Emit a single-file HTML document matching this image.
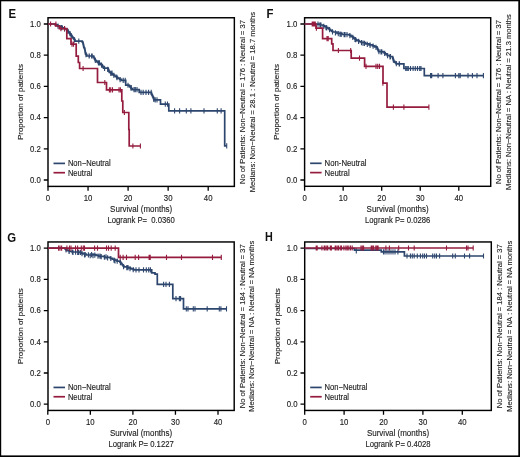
<!DOCTYPE html><html><head><meta charset="utf-8"><style>
html,body{margin:0;padding:0;background:#fff;}svg{display:block;will-change:transform;}
.t{font-family:'Liberation Sans',sans-serif;font-size:7.7px;fill:#1c1c1c;stroke:#1c1c1c;stroke-width:0.12px;}
.s{font-family:'Liberation Sans',sans-serif;font-size:7.6px;fill:#1c1c1c;stroke:#1c1c1c;stroke-width:0.12px;}
.L{font-family:'Liberation Sans',sans-serif;font-size:12px;font-weight:bold;fill:#111;}
</style></head><body>
<svg width="520" height="457" viewBox="0 0 520 457">
<rect x="0" y="0" width="520" height="457" fill="#fff"/>
<rect x="48" y="17.76" width="186.35" height="168.64" fill="none" stroke="#000" stroke-width="1.45"/>
<path d="M43.8,180H48M43.8,148.8H48M43.8,117.6H48M43.8,86.4H48M43.8,55.2H48M43.8,24H48M48,186.4V190.8M88.05,186.4V190.8M128.1,186.4V190.8M168.15,186.4V190.8M208.2,186.4V190.8" stroke="#000" stroke-width="1.3" fill="none"/>
<text transform="translate(40.8 182.7) scale(1 1.14)" text-anchor="end" class="t" style="font-size:7.8px">0.0</text>
<text transform="translate(40.8 151.5) scale(1 1.14)" text-anchor="end" class="t" style="font-size:7.8px">0.2</text>
<text transform="translate(40.8 120.3) scale(1 1.14)" text-anchor="end" class="t" style="font-size:7.8px">0.4</text>
<text transform="translate(40.8 89.1) scale(1 1.14)" text-anchor="end" class="t" style="font-size:7.8px">0.6</text>
<text transform="translate(40.8 57.9) scale(1 1.14)" text-anchor="end" class="t" style="font-size:7.8px">0.8</text>
<text transform="translate(40.8 26.7) scale(1 1.14)" text-anchor="end" class="t" style="font-size:7.8px">1.0</text>
<text transform="translate(48 200.7) scale(1 1.14)" text-anchor="middle" class="t" style="font-size:7.8px">0</text>
<text transform="translate(88.05 200.7) scale(1 1.14)" text-anchor="middle" class="t" style="font-size:7.8px">10</text>
<text transform="translate(128.1 200.7) scale(1 1.14)" text-anchor="middle" class="t" style="font-size:7.8px">20</text>
<text transform="translate(168.15 200.7) scale(1 1.14)" text-anchor="middle" class="t" style="font-size:7.8px">30</text>
<text transform="translate(208.2 200.7) scale(1 1.14)" text-anchor="middle" class="t" style="font-size:7.8px">40</text>
<text transform="translate(141.18 212.4) scale(1 1.14)" text-anchor="middle" class="t" style="font-size:8px">Survival (months)</text>
<text transform="translate(141.18 223.3) scale(1 1.14)" text-anchor="middle" class="t" style="font-size:7.7px">Logrank P=  0.0360</text>
<text x="22.9" y="102.08" text-anchor="middle" class="t" style="font-size:8px" transform="rotate(-90 22.9 102.08)">Proportion of patients</text>
<text x="245.05" y="102.08" text-anchor="middle" class="s" transform="rotate(-90 245.05 102.08)">No of Patients: Non−Neutral = 176 : Neutral = 37</text>
<text x="254.65" y="102.08" text-anchor="middle" class="s" transform="rotate(-90 254.65 102.08)">Medians: Non−Neutral = 28.1 : Neutral = 18.7 months</text>
<text transform="translate(8.5 17.6) scale(0.95 1)" class="L">E</text>
<path d="M53.5,163.4H65" stroke="#2d466e" stroke-width="1.7"/>
<path d="M53.5,172.7H65" stroke="#951c3e" stroke-width="1.7"/>
<text transform="translate(67.9 166.3) scale(1 1.14)" text-anchor="start" class="t" style="font-size:7.6px">Non−Neutral</text>
<text transform="translate(67.9 175.6) scale(1 1.14)" text-anchor="start" class="t" style="font-size:7.6px">Neutral</text>
<path d="M48,24H53H55.28 V24.97H57.57 V25.93H59.85 V26.9H62.13 V27.87H64.42 V28.83H66.7 V29.8H67.39 V30.7H68.08 V31.6H68.78 V32.5H69.47 V33.4H70.16 V34.3H70.85 V35.2H71.54 V36.1H72.23 V37H72.92 V37.9H73.62 V38.8H74.31 V39.7H75 V40.6V41.2H81.6H82.25 V42.05H82.9 V42.9H83.1 V43.82H83.3 V44.74H83.5 V45.66H83.7 V46.58H83.9 V47.5H84.35 V48.45H84.8 V49.4H84.94 V50.32H85.08 V51.24H85.22 V52.16H85.36 V53.08H85.5 V54H86.15 V54.7H86.8 V55.4V56H93.4H93.7 V57H94 V58H94.47 V58.87H94.93 V59.73H95.4 V60.6H96.37 V61.37H97.33 V62.13H98.3 V62.9H99.6 V63.77H100.9 V64.63H102.2 V65.5H102.63 V66.37H103.07 V67.23H103.5 V68.1H108.1 V69.4H108.53 V70.4H108.97 V71.4H109.4 V72.4H110.73 V73.3H112.05 V74.2H113.38 V75.1H114.7 V76H115.8 V76.77H116.9 V77.53H118 V78.3H119.65 V79.3H121.3 V80.3H125.7V85.1H128.7 V85.3H129.4 V86.18H130.1 V87.06H130.8 V87.94H131.5 V88.82H132.2 V89.7H139.2V92.3H151.2H151.37 V93.07H151.53 V93.83H151.7 V94.6H152.13 V95.47H152.57 V96.33H153 V97.2H153.33 V98.1H153.67 V99H154 V99.9H160.5V104.2H168.8V110.8H224.7V145.8H226.7" stroke="#2d466e" stroke-width="1.7" fill="none"/>
<path d="M78.8,38.6V43.8M89.3,53.4V58.6M91.6,53.4V58.6M125.2,77.7V82.9M131.3,84.9V90.1M135.3,87.1V92.3M141,89.7V94.9M143.2,89.7V94.9M155.2,97.3V102.5M157,97.3V102.5M165.3,101.6V106.8M167.5,101.6V106.8M174.6,108.2V113.4M179.6,108.2V113.4M186.3,108.2V113.4M190.9,108.2V113.4M204,108.2V113.4M217.3,108.2V113.4M221.1,108.2V113.4M226.7,143.2V148.4M62,25V30.2M70,31.1V36.3M99.5,60.3V65.5M112,70.5V75.7M116.7,74.4V79.6M58,23.52V28.72M61.3,24.91V30.11M64.6,26.31V31.51M67.9,28.76V33.96M71.2,33.06V38.26M74.5,37.35V42.55M86,51.94V57.14M89.1,53.4V58.6M92.2,53.4V58.6M95.3,57.81V63.01M98.4,60.37V65.57M101.5,62.43V67.63M104.6,65.81V71.01M107.7,66.69V71.89M110.8,70.75V75.95M113.9,72.86V78.06M117,75V80.2M120.1,76.97V82.17M123.2,77.7V82.9M128,82.65V87.85M131,85.59V90.79M134,87.1V92.3M137,87.1V92.3M146,89.7V94.9M148.6,89.7V94.9M151.2,89.7V94.9M153.8,96.76V101.96" stroke="#2d466e" stroke-width="1.1" fill="none"/>
<path d="M48,24H55.6V26H59.3V28.6H66.8V38.6H71V44.2H76.2V56.1H78.3V62.5H79.6V68.5H97.5V82.5H106.5V89.9H121.8V101H122.8V112.5H128.8V129.5H129.2V146H140.4" stroke="#951c3e" stroke-width="1.7" fill="none"/>
<path d="M50.6,21.4V26.6M55.9,21.4V26.6M60.9,26V31.2M64.5,26V31.2M72,41.6V46.8M73.5,41.6V46.8M83.1,65.9V71.1M104.8,79.9V85.1M109.4,87.3V92.5M110.7,87.3V92.5M112.5,87.3V92.5M119,87.3V92.5M120.4,87.3V92.5M124.4,109.9V115.1M132.9,143.4V148.6M140.4,143.4V148.6" stroke="#951c3e" stroke-width="1.1" fill="none"/>
<rect x="304.6" y="17.76" width="186.1" height="168.54" fill="none" stroke="#000" stroke-width="1.45"/>
<path d="M300.4,180H304.6M300.4,148.8H304.6M300.4,117.6H304.6M300.4,86.4H304.6M300.4,55.2H304.6M300.4,24H304.6M304.6,186.3V190.7M343.15,186.3V190.7M381.7,186.3V190.7M420.25,186.3V190.7M458.8,186.3V190.7" stroke="#000" stroke-width="1.3" fill="none"/>
<text transform="translate(297.4 182.7) scale(1 1.14)" text-anchor="end" class="t" style="font-size:7.8px">0.0</text>
<text transform="translate(297.4 151.5) scale(1 1.14)" text-anchor="end" class="t" style="font-size:7.8px">0.2</text>
<text transform="translate(297.4 120.3) scale(1 1.14)" text-anchor="end" class="t" style="font-size:7.8px">0.4</text>
<text transform="translate(297.4 89.1) scale(1 1.14)" text-anchor="end" class="t" style="font-size:7.8px">0.6</text>
<text transform="translate(297.4 57.9) scale(1 1.14)" text-anchor="end" class="t" style="font-size:7.8px">0.8</text>
<text transform="translate(297.4 26.7) scale(1 1.14)" text-anchor="end" class="t" style="font-size:7.8px">1.0</text>
<text transform="translate(304.6 200.6) scale(1 1.14)" text-anchor="middle" class="t" style="font-size:7.8px">0</text>
<text transform="translate(343.15 200.6) scale(1 1.14)" text-anchor="middle" class="t" style="font-size:7.8px">10</text>
<text transform="translate(381.7 200.6) scale(1 1.14)" text-anchor="middle" class="t" style="font-size:7.8px">20</text>
<text transform="translate(420.25 200.6) scale(1 1.14)" text-anchor="middle" class="t" style="font-size:7.8px">30</text>
<text transform="translate(458.8 200.6) scale(1 1.14)" text-anchor="middle" class="t" style="font-size:7.8px">40</text>
<text transform="translate(397.65 212.3) scale(1 1.14)" text-anchor="middle" class="t" style="font-size:8px">Survival (months)</text>
<text transform="translate(397.65 223.2) scale(1 1.14)" text-anchor="middle" class="t" style="font-size:7.7px">Logrank P= 0.0286</text>
<text x="279.5" y="102.03" text-anchor="middle" class="t" style="font-size:8px" transform="rotate(-90 279.5 102.03)">Proportion of patients</text>
<text x="501.4" y="102.03" text-anchor="middle" class="s" transform="rotate(-90 501.4 102.03)">No of Patients: Non−Neutral = 176 : Neutral = 37</text>
<text x="511" y="102.03" text-anchor="middle" class="s" transform="rotate(-90 511 102.03)">Medians: Non−Neutral = NA : Neutral = 21.3 months</text>
<text transform="translate(266.6 17.6) scale(0.95 1)" class="L">F</text>
<path d="M310.1,163.3H321.6" stroke="#2d466e" stroke-width="1.7"/>
<path d="M310.1,172.6H321.6" stroke="#951c3e" stroke-width="1.7"/>
<text transform="translate(324.5 166.2) scale(1 1.14)" text-anchor="start" class="t" style="font-size:7.8px">Non-Neutral</text>
<text transform="translate(324.5 175.5) scale(1 1.14)" text-anchor="start" class="t" style="font-size:7.8px">Neutral</text>
<path d="M304.6,24H317.7 V24.1H320.35 V25H323 V25.9H324.67 V26.77H326.33 V27.63H328 V28.5H329.15 V29.38H330.3 V30.25H331.45 V31.12H332.6 V32H337 V33.3H342 V34.5H348.1 V34.6H349.57 V35.47H351.03 V36.33H352.5 V37.2H353.6 V38.08H354.7 V38.95H355.8 V39.83H356.9 V40.7H359.05 V41.6H361.2 V42.5H365.6 V43.8H369.05 V44.85H372.5 V45.9H374.7 V46.8H376.9 V47.7H377.32 V48.68H377.75 V49.65H378.18 V50.62H378.6 V51.6H383 V52H384.1 V52.9H385.2 V53.8H386.3 V54.7H387.4 V55.6H389.95 V56.5H392.5 V57.4H392.82 V58.4H393.15 V59.4H393.48 V60.4H393.8 V61.4H394.67 V62.2H395.53 V63H396.4 V63.8H403.9V68.5H424.3V75.7H483.4" stroke="#2d466e" stroke-width="1.7" fill="none"/>
<path d="M405.7,65.9V71.1M407,65.9V71.1M408.3,65.9V71.1M410.5,65.9V71.1M413.1,65.9V71.1M415.3,65.9V71.1M417.5,65.9V71.1M419.7,65.9V71.1M421,65.9V71.1M430.6,73.1V78.3M431.7,73.1V78.3M438.1,73.1V78.3M442.9,73.1V78.3M455.4,73.1V78.3M458.8,73.1V78.3M460.2,73.1V78.3M468,73.1V78.3M472.4,73.1V78.3M477,73.1V78.3M483.4,73.1V78.3M320,22.3V27.5M326,25V30.2M340,31.6V36.8M345,32V37.2M355,36.9V42.1M363,40.5V45.7M370,42.6V47.8M381,49.2V54.4M390,54.2V59.4M399.5,61.2V66.4M318,21.6V26.8M320.9,22.59V27.79M323.8,23.72V28.92M326.7,25.22V30.42M329.6,27.12V32.32M332.5,29.32V34.52M335.4,30.23V35.43M338.3,31.01V36.21M341.2,31.71V36.91M344.1,31.93V37.13M347,31.98V37.18M349.9,33.06V38.26M352.8,34.84V40.04M355.7,37.15V42.35M358.6,38.81V44.01M361.5,39.99V45.19M364.4,40.85V46.05M367.3,41.72V46.92M370.2,42.6V47.8M373.1,43.55V48.75M376,44.73V49.93M378.9,49.03V54.23M381.8,49.29V54.49M384.7,50.79V55.99M387.6,53.07V58.27M390.5,54.09V59.29M393.4,57.57V62.77M396.3,61.11V66.31M399.2,61.2V66.4" stroke="#2d466e" stroke-width="1.1" fill="none"/>
<path d="M304.6,24H316V28.1H322.6V38.6H331.7V43.8H333V50.5H351.2V58.1H364.6V66.3H383V83.1H387V107.1H428.9" stroke="#951c3e" stroke-width="1.7" fill="none"/>
<path d="M312.2,21.4V26.6M313.3,21.4V26.6M314.4,21.4V26.6M315.3,21.4V26.6M316.4,25.5V30.7M327,36V41.2M328.2,36V41.2M338.4,47.9V53.1M350.7,47.9V53.1M359.5,55.5V60.7M366,63.7V68.9M376,63.7V68.9M377.7,63.7V68.9M379.5,63.7V68.9M382.9,80.5V85.7M393.4,104.5V109.7M403.9,104.5V109.7M428.9,104.5V109.7" stroke="#951c3e" stroke-width="1.1" fill="none"/>
<rect x="48" y="241.96" width="186.2" height="168.48" fill="none" stroke="#000" stroke-width="1.45"/>
<path d="M43.8,404.2H48M43.8,373H48M43.8,341.8H48M43.8,310.6H48M43.8,279.4H48M43.8,248.2H48M47.8,410.44V414.84M90.35,410.44V414.84M132.9,410.44V414.84M175.45,410.44V414.84M218,410.44V414.84" stroke="#000" stroke-width="1.3" fill="none"/>
<text transform="translate(40.8 406.9) scale(1 1.14)" text-anchor="end" class="t" style="font-size:7.8px">0.0</text>
<text transform="translate(40.8 375.7) scale(1 1.14)" text-anchor="end" class="t" style="font-size:7.8px">0.2</text>
<text transform="translate(40.8 344.5) scale(1 1.14)" text-anchor="end" class="t" style="font-size:7.8px">0.4</text>
<text transform="translate(40.8 313.3) scale(1 1.14)" text-anchor="end" class="t" style="font-size:7.8px">0.6</text>
<text transform="translate(40.8 282.1) scale(1 1.14)" text-anchor="end" class="t" style="font-size:7.8px">0.8</text>
<text transform="translate(40.8 250.9) scale(1 1.14)" text-anchor="end" class="t" style="font-size:7.8px">1.0</text>
<text transform="translate(47.8 424.74) scale(1 1.14)" text-anchor="middle" class="t" style="font-size:7.8px">0</text>
<text transform="translate(90.35 424.74) scale(1 1.14)" text-anchor="middle" class="t" style="font-size:7.8px">10</text>
<text transform="translate(132.9 424.74) scale(1 1.14)" text-anchor="middle" class="t" style="font-size:7.8px">20</text>
<text transform="translate(175.45 424.74) scale(1 1.14)" text-anchor="middle" class="t" style="font-size:7.8px">30</text>
<text transform="translate(218 424.74) scale(1 1.14)" text-anchor="middle" class="t" style="font-size:7.8px">40</text>
<text transform="translate(141.1 436.44) scale(1 1.14)" text-anchor="middle" class="t" style="font-size:8px">Survival (months)</text>
<text transform="translate(141.1 447.34) scale(1 1.14)" text-anchor="middle" class="t" style="font-size:7.7px">Logrank P= 0.1227</text>
<text x="22.9" y="326.2" text-anchor="middle" class="t" style="font-size:8px" transform="rotate(-90 22.9 326.2)">Proportion of patients</text>
<text x="244.9" y="326.2" text-anchor="middle" class="s" transform="rotate(-90 244.9 326.2)">No of Patients: Non−Neutral = 184 : Neutral = 37</text>
<text x="254.5" y="326.2" text-anchor="middle" class="s" transform="rotate(-90 254.5 326.2)">Medians: Non−Neutral = NA : Neutral = NA months</text>
<text transform="translate(7.3 241.7) scale(0.95 1)" class="L">G</text>
<path d="M53.5,387.44H65" stroke="#2d466e" stroke-width="1.7"/>
<path d="M53.5,396.74H65" stroke="#951c3e" stroke-width="1.7"/>
<text transform="translate(67.9 390.34) scale(1 1.14)" text-anchor="start" class="t" style="font-size:7.6px">Non−Neutral</text>
<text transform="translate(67.9 399.64) scale(1 1.14)" text-anchor="start" class="t" style="font-size:7.6px">Neutral</text>
<path d="M48,248.2H64H65 V249H66 V249.8H67 V250.6H69.5 V251.3H72 V252H79 V252.3H81 V253.15H83 V254H86.3 V255H93.1 V254.6H95.95 V255.45H98.8 V256.3H104.6 V257.3H110.4 V258.3H112.3 V259.25H114.2 V260.2H117.1 V261.15H120 V262.1H120.76 V263.06H121.52 V264.02H122.28 V264.98H123.04 V265.94H123.8 V266.9H127.7 V267.9H130.6 V268.85H133.5 V269.8H151.7V272.9H155 V274.2H157.3 V274.4V284.3H172.8V298.6H183.5V308.9H226.5" stroke="#2d466e" stroke-width="1.7" fill="none"/>
<path d="M69,248.9V254.1M73,249.7V254.9M77.7,249.7V254.9M80.6,249.9V255.1M84.5,252.2V257.4M90.2,253.1V258.3M93,253.1V258.3M100,253.5V258.7M106,254.2V259.4M115,258.2V263.4M128,265V270.2M136,267.2V272.4M139,267.2V272.4M143.5,267.2V272.4M146.3,267.2V272.4M148.7,267.2V272.4M150.4,267.2V272.4M163.6,281.7V286.9M166,281.7V286.9M169.4,281.7V286.9M176,296V301.2M179.4,296V301.2M180.6,296V301.2M186.3,306.3V311.5M188,306.3V311.5M193.3,306.3V311.5M195,306.3V311.5M207.2,306.3V311.5M219.3,306.3V311.5M220.9,306.3V311.5M226.5,306.3V311.5M66,247.2V252.4M69.2,248.62V253.82M72.4,249.42V254.62M75.6,249.55V254.75M78.8,249.69V254.89M82,250.97V256.18M85.2,252.07V257.27M88.4,252.28V257.48M91.6,252.09V257.29M94.8,252.51V257.71M98,253.46V258.66M101.2,254.11V259.31M104.4,254.67V259.87M107.6,255.22V260.42M110.8,255.9V261.1M114,257.5V262.7M117.2,258.58V263.78M120.4,260.01V265.21M123.6,264.05V269.25M126.8,265.07V270.27M130,266.05V271.25M133.2,267.1V272.3" stroke="#2d466e" stroke-width="1.1" fill="none"/>
<path d="M48,248.2H118.5V257.3H221.3" stroke="#951c3e" stroke-width="1.7" fill="none"/>
<path d="M58.6,245.6V250.8M60,245.6V250.8M61.6,245.6V250.8M66.9,245.6V250.8M69.5,245.6V250.8M71,245.6V250.8M75.5,245.6V250.8M77.6,245.6V250.8M81.3,245.6V250.8M83.3,245.6V250.8M84.5,245.6V250.8M94.6,245.6V250.8M97.5,245.6V250.8M106.5,245.6V250.8M108.5,245.6V250.8M111.2,245.6V250.8M115.2,245.6V250.8M120.2,254.7V259.9M123.1,254.7V259.9M126.5,254.7V259.9M135.2,254.7V259.9M138.6,254.7V259.9M149.1,254.7V259.9M150.2,254.7V259.9M166.5,254.7V259.9M181.5,254.7V259.9M212.5,254.7V259.9M221.3,254.7V259.9" stroke="#951c3e" stroke-width="1.1" fill="none"/>
<rect x="304.7" y="241.96" width="186.6" height="168.48" fill="none" stroke="#000" stroke-width="1.45"/>
<path d="M300.5,404.2H304.7M300.5,373H304.7M300.5,341.8H304.7M300.5,310.6H304.7M300.5,279.4H304.7M300.5,248.2H304.7M304.7,410.44V414.84M344.1,410.44V414.84M383.5,410.44V414.84M422.9,410.44V414.84M462.3,410.44V414.84" stroke="#000" stroke-width="1.3" fill="none"/>
<text transform="translate(297.5 406.9) scale(1 1.14)" text-anchor="end" class="t" style="font-size:7.8px">0.0</text>
<text transform="translate(297.5 375.7) scale(1 1.14)" text-anchor="end" class="t" style="font-size:7.8px">0.2</text>
<text transform="translate(297.5 344.5) scale(1 1.14)" text-anchor="end" class="t" style="font-size:7.8px">0.4</text>
<text transform="translate(297.5 313.3) scale(1 1.14)" text-anchor="end" class="t" style="font-size:7.8px">0.6</text>
<text transform="translate(297.5 282.1) scale(1 1.14)" text-anchor="end" class="t" style="font-size:7.8px">0.8</text>
<text transform="translate(297.5 250.9) scale(1 1.14)" text-anchor="end" class="t" style="font-size:7.8px">1.0</text>
<text transform="translate(304.7 424.74) scale(1 1.14)" text-anchor="middle" class="t" style="font-size:7.8px">0</text>
<text transform="translate(344.1 424.74) scale(1 1.14)" text-anchor="middle" class="t" style="font-size:7.8px">10</text>
<text transform="translate(383.5 424.74) scale(1 1.14)" text-anchor="middle" class="t" style="font-size:7.8px">20</text>
<text transform="translate(422.9 424.74) scale(1 1.14)" text-anchor="middle" class="t" style="font-size:7.8px">30</text>
<text transform="translate(462.3 424.74) scale(1 1.14)" text-anchor="middle" class="t" style="font-size:7.8px">40</text>
<text transform="translate(398 436.44) scale(1 1.14)" text-anchor="middle" class="t" style="font-size:8px">Survival (months)</text>
<text transform="translate(398 447.34) scale(1 1.14)" text-anchor="middle" class="t" style="font-size:7.7px">Logrank P= 0.4028</text>
<text x="279.6" y="326.2" text-anchor="middle" class="t" style="font-size:8px" transform="rotate(-90 279.6 326.2)">Proportion of patients</text>
<text x="502" y="326.2" text-anchor="middle" class="s" transform="rotate(-90 502 326.2)">No of Patients: Non−Neutral = 184 : Neutral = 37</text>
<text x="511.6" y="326.2" text-anchor="middle" class="s" transform="rotate(-90 511.6 326.2)">Medians: Non−Neutral = NA : Neutral = NA months</text>
<text transform="translate(265.1 241.3) scale(0.9 1)" class="L">H</text>
<path d="M310.2,387.44H321.7" stroke="#2d466e" stroke-width="1.7"/>
<path d="M310.2,396.74H321.7" stroke="#951c3e" stroke-width="1.7"/>
<text transform="translate(324.6 390.34) scale(1 1.14)" text-anchor="start" class="t" style="font-size:7.6px">Non−Neutral</text>
<text transform="translate(324.6 399.64) scale(1 1.14)" text-anchor="start" class="t" style="font-size:7.6px">Neutral</text>
<path d="M304.7,248.5H354.5V250.1H381.3V251.9H404.4V256H483.5" stroke="#2d466e" stroke-width="1.7" fill="none"/>
<path d="M356.3,248.2V253.4M383.5,249.3V254.5M385,249.3V254.5M387,249.3V254.5M389,249.3V254.5M391,249.3V254.5M393,249.3V254.5M395,249.3V254.5M397.9,249.3V254.5M407,253.4V258.6M410.4,253.4V258.6M412.3,253.4V258.6M414.2,253.4V258.6M417.3,253.4V258.6M420.4,253.4V258.6M422.7,253.4V258.6M424.5,253.4V258.6M426.5,253.4V258.6M432.7,253.4V258.6M434.7,253.4V258.6M436.5,253.4V258.6M439.6,253.4V258.6M452.7,253.4V258.6M455.3,253.4V258.6M464.5,253.4V258.6M469.6,253.4V258.6M483.5,253.4V258.6" stroke="#2d466e" stroke-width="1.1" fill="none"/>
<path d="M304.7,248H473.2" stroke="#951c3e" stroke-width="1.7" fill="none"/>
<path d="M316.2,245.4V250.6M317.2,245.4V250.6M321.9,245.4V250.6M324.2,245.4V250.6M325.1,245.4V250.6M326.8,245.4V250.6M327.7,245.4V250.6M330.3,245.4V250.6M331.4,245.4V250.6M335.2,245.4V250.6M336.1,245.4V250.6M337.8,245.4V250.6M338.7,245.4V250.6M340.7,245.4V250.6M341.5,245.4V250.6M343.9,245.4V250.6M345.9,245.4V250.6M347.3,245.4V250.6M348.8,245.4V250.6M350.5,245.4V250.6M352.2,245.4V250.6M361,245.4V250.6M362.3,245.4V250.6M363.6,245.4V250.6M371.2,245.4V250.6M372.3,245.4V250.6M373.6,245.4V250.6M375.8,245.4V250.6M377,245.4V250.6M378.1,245.4V250.6M385.9,245.4V250.6M389.4,245.4V250.6M398.7,245.4V250.6M408.5,245.4V250.6M414.2,245.4V250.6M446.5,245.4V250.6M466.5,245.4V250.6M468,245.4V250.6M473.2,245.4V250.6" stroke="#951c3e" stroke-width="1.1" fill="none"/>
<rect x="0" y="0" width="520" height="1.3" fill="#000"/>
<rect x="0" y="0" width="1.2" height="457" fill="#000"/>
<rect x="518.3" y="0" width="1.7" height="457" fill="#000"/>
<rect x="0" y="455.4" width="520" height="1.6" fill="#000"/>
</svg></body></html>
